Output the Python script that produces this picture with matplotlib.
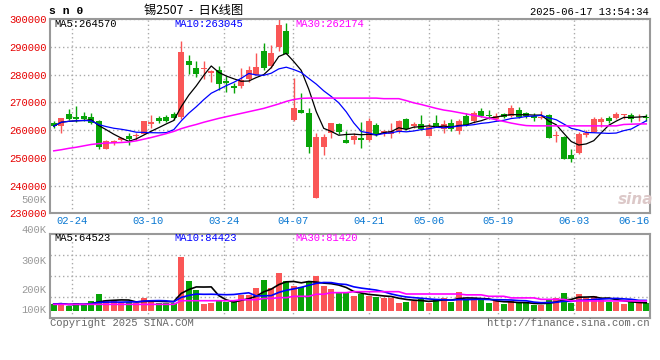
import matplotlib
matplotlib.use('Agg')
import matplotlib.pyplot as plt
import matplotlib.transforms as mtransforms
import numpy as np
import pandas as pd

# trading days shown (SHFE holidays removed)
holidays = ['2025-04-04', '2025-05-01', '2025-05-02', '2025-05-05', '2025-06-02']
dates = [d.strftime('%m-%d') for d in pd.bdate_range('2025-02-19', '2025-06-17')
         if d.strftime('%Y-%m-%d') not in holidays]
tick_labels = ['02-24', '03-10', '03-24', '04-07', '04-21', '05-06', '05-19', '06-03', '06-16']

opens = [262600, 261500, 265700, 264800, 265100, 264600, 263400, 253100, 255200, 256300,
         258000, 258000, 258600, 262000, 264300, 264600, 265800, 264600, 284700, 282300,
         281900, 280700, 281500, 277800, 275900, 276000, 278500, 280000, 288500, 283000,
         289800, 295500, 263500, 267300, 266300, 235500, 253800, 259000, 262200, 256400,
         256300, 257300, 256300, 261700, 258700, 258600, 259600, 264000, 261500, 262200,
         258000, 262500, 260400, 262700, 259800, 265100, 263100, 266900, 265500, 264000,
         265900, 265000, 267300, 266000, 265000, 264500, 265500, 257800, 257500, 251000,
         251900, 258200, 259300, 263000, 264300, 264200, 265300, 265500, 264200, 264600]
highs = [263200, 264200, 267500, 268600, 266400, 266200, 263700, 256500, 256400, 257400,
         258800, 259100, 263400, 265300, 265100, 265300, 266400, 292100, 286900, 284800,
         284800, 281800, 283000, 279400, 276800, 282500, 282900, 287900, 291400, 290800,
         300000, 298500, 278800, 273200, 268000, 258900, 258400, 262600, 262500, 259500,
         258800, 262800, 264500, 262600, 260000, 262600, 263600, 264300, 263000, 265300,
         262500, 265400, 263500, 263800, 263900, 266100, 266800, 267800, 267300, 266000,
         266100, 269100, 268200, 266500, 266300, 267000, 265800, 259800, 257700, 253000,
         259200, 260100, 264700, 264700, 265200, 266600, 265800, 266200, 265800, 265800]
lows = [260900, 259000, 263500, 263000, 263100, 262200, 253200, 253000, 254500, 255900,
        254600, 256400, 258400, 260900, 262600, 262800, 263700, 263900, 280100, 279000,
        278500, 277200, 274400, 273700, 273400, 275200, 277200, 279700, 281600, 282300,
        288500, 287300, 263300, 266000, 251800, 235400, 250900, 257200, 258700, 255300,
        255000, 253700, 256000, 257800, 257800, 257300, 258900, 259900, 260800, 260100,
        257700, 261000, 258800, 259500, 258600, 261400, 262700, 264800, 264000, 263100,
        264200, 264700, 264300, 264400, 263400, 264000, 257000, 255800, 249500, 248500,
        251300, 257600, 259200, 261000, 262400, 263900, 263800, 262900, 263400, 263100]
closes = [261400, 264200, 263800, 263900, 263900, 262700, 253800, 256200, 255900, 257000,
          256700, 258200, 263100, 262900, 263400, 263400, 264400, 288000, 283500, 280200,
          282400, 281300, 276500, 276900, 275200, 277900, 281800, 282700, 282200, 287800,
          297900, 287500, 268000, 266200, 254000, 257400, 257400, 262500, 259300, 255400,
          258000, 256300, 263400, 258200, 259500, 259700, 263300, 260400, 262300, 260400,
          261100, 261400, 262000, 260400, 263300, 261900, 266000, 265200, 265000, 265200,
          264600, 267900, 264800, 265100, 264500, 264700, 257000, 258200, 249700, 249700,
          258400, 259000, 264000, 263900, 263300, 265900, 265600, 264100, 264500, 264400]
# MA30 (needs history before the first bar)
ma30 = [252500, 252900, 253400, 253800, 254300, 254800, 255100, 255300, 255400, 255500,
        255700, 256100, 256700, 257300, 258000, 258700, 259500, 260500, 261300, 262000,
        262800, 263500, 264200, 264800, 265400, 266000, 266600, 267200, 267800, 268600,
        269400, 270300, 271000, 271400, 271500, 271500, 271500, 271500, 271500, 271500,
        271500, 271500, 271500, 271500, 271300, 271300, 271300, 270600, 269800, 269200,
        268500, 267800, 267200, 266800, 266300, 265800, 265300, 264800, 264300, 263700,
        263100, 262500, 262000, 261600, 261500, 261500, 261500, 261500, 261500, 261500,
        261500, 261500, 261500, 261500, 261500, 261500, 262000, 262100, 262200, 262200]

# volume in K lots
volumes = [55, 60, 38, 60, 46, 79, 137, 87, 79, 60, 74, 60, 107, 87, 60, 60, 60, 443, 243, 169,
           55, 66, 87, 68, 79, 128, 128, 189, 251, 189, 312, 243, 202, 197, 243, 287, 202, 178, 142, 142,
           123, 137, 123, 115, 107, 101, 66, 74, 82, 93, 66, 93, 107, 74, 156, 93, 87, 87, 60, 79,
           55, 79, 60, 60, 46, 46, 96, 107, 148, 66, 137, 101, 120, 87, 74, 74, 55, 74, 60, 60]
vol_ma30 = [52] * 17 + [82] * 8 + [90] * 3 + [100] * 2 + [107] * 2 + [118] * 3 + [135] * 2 + \
           [148] * 3 + [156] * 7 + [137] * 8 + [130] * 3 + [118] * 3 + [105] * 4 + [93] * 4 + [80] * 11

RED = '#fa5656'
GREEN = '#08a408'
GRID = '#aaaaaa'
MONO = 'Liberation Mono'

x = np.arange(len(dates))
o = np.array(opens); h = np.array(highs); l = np.array(lows); c = np.array(closes)
up = c >= o
colors = [RED if u else GREEN for u in up]
ma5 = pd.Series(c).rolling(5, min_periods=1).mean()
ma10 = pd.Series(c).rolling(10, min_periods=1).mean()
v = np.array(volumes)
vma5 = pd.Series(v).rolling(5, min_periods=1).mean()
vma10 = pd.Series(v).rolling(10, min_periods=1).mean()

W, H = 660, 360
fig = plt.figure(figsize=(W / 100, H / 100), dpi=100)
fig.patch.set_facecolor('white')


def rect(left, top, right, bottom):
    return [left / W, 1 - bottom / H, (right - left) / W, (bottom - top) / H]


def ftext(px, py, s, **kw):
    fig.text(px / W, 1 - py / H, s, **kw)


ax = fig.add_axes(rect(50, 19, 650, 213.3))
axv = fig.add_axes(rect(50, 234.3, 650, 318.3))

# vertical gridline positions (sina spaces them slightly wider than the bars)
label_idx = [dates.index(t) for t in tick_labels]
grid_pos = [2.47 + (i - 3) * 7.6 / 7.5 for i in label_idx]

for a in (ax, axv):
    a.set_xlim(-0.5, len(dates) - 0.5)
    for s in a.spines.values():
        s.set_color('#999999')
        s.set_linewidth(1.5)
    a.tick_params(length=0)
    a.set_xticks([])
    for gp in grid_pos[:-1]:
        a.axvline(gp, color=GRID, lw=1, ls=(0, (1, 2)), zorder=0)

# price panel
ax.set_ylim(230000, 300000)
ax.set_yticks(range(230000, 300001, 10000))
ax.set_yticklabels([str(t) for t in range(230000, 300001, 10000)], color='#e60000',
                   fontfamily=MONO, fontsize=7.6)
ax.tick_params(axis='y', pad=2.5)
ax.grid(axis='y', color=GRID, lw=1, ls=(0, (1, 2)), zorder=0)

ax.vlines(x, l, h, colors=colors, lw=1, zorder=2)
body = np.maximum(np.abs(c - o), 300)
ax.bar(x, body, bottom=np.minimum(o, c), width=0.78, color=colors, zorder=3, antialiased=False)
ax.plot(x, ma5, color='black', lw=0.9, zorder=4)
ax.plot(x, ma10, color='#0000ff', lw=0.9, zorder=4)
ax.plot(x, ma30, color='#ff00ff', lw=1.1, zorder=4)

trans = mtransforms.blended_transform_factory(ax.transData, ax.transAxes)
for t, gp in zip(tick_labels[:-1], grid_pos[:-1]):
    ax.text(gp, -0.042, t, transform=trans, ha='center', va='center', color='#0a78d2',
            fontfamily=MONO, fontsize=7.6)
ax.text(1.0, -0.042, tick_labels[-1], transform=ax.transAxes, ha='right', va='center',
        color='#0a78d2', fontfamily=MONO, fontsize=7.6)

# volume panel
vlo, vhi = -62.3, 626.5
axv.set_ylim(vlo, vhi)
axv.set_yticks([vlo + (vhi - vlo) * f for f in (0.25, 0.5, 0.75)])
axv.set_yticklabels([])
axv.grid(axis='y', color=GRID, lw=1, ls=(0, (1, 2)), zorder=0)
axv.bar(x, v, width=0.78, color=colors, zorder=2, antialiased=False)
axv.plot(x, vma5, color='black', lw=1.2, zorder=3)
axv.plot(x, vma10, color='#0000ff', lw=1.2, zorder=3)
axv.plot(x, vol_ma30, color='#ff00ff', lw=1.2, zorder=3)

# texts
mono = dict(fontfamily=MONO, fontsize=7.6, va='center')
ftext(49, 11.5, 's n 0', fontfamily=MONO, fontsize=8.2, fontweight='bold', va='center')
ftext(194, 10.5, '锡2507  -  日K线图', family=['Noto Sans CJK SC', 'DejaVu Sans'], fontsize=8.8,
      ha='center', va='center')
ftext(648.5, 11.7, '2025-06-17 13:54:34', ha='right', **mono)
ftext(54, 23.7, 'MA5:264570', color='black', **mono)
ftext(174.3, 23.7, 'MA10:263045', color='#0000ff', **mono)
ftext(295, 23.7, 'MA30:262174', color='#ff00ff', **mono)
ftext(54, 238.3, 'MA5:64523', color='black', **mono)
ftext(174.3, 238.3, 'MA10:84423', color='#0000ff', **mono)
ftext(295, 238.3, 'MA30:81420', color='#ff00ff', **mono)
for lab, py in [('500K', 200.3), ('400K', 230), ('300K', 260.8), ('200K', 290.3), ('100K', 310)]:
    ftext(46.7, py, lab, color='#999999', ha='right', **mono)
ftext(50, 323.5, 'Copyright 2025 SINA.COM', color='#666666', **mono)
ftext(649, 323.5, 'http://finance.sina.com.cn', color='#666666', ha='right', **mono)
ftext(636, 199, 'sina', color='#dcc8c8', fontsize=11, fontweight='bold', fontstyle='italic',
      ha='center', va='center', family='DejaVu Sans')

fig.savefig('out.png', dpi=100)
